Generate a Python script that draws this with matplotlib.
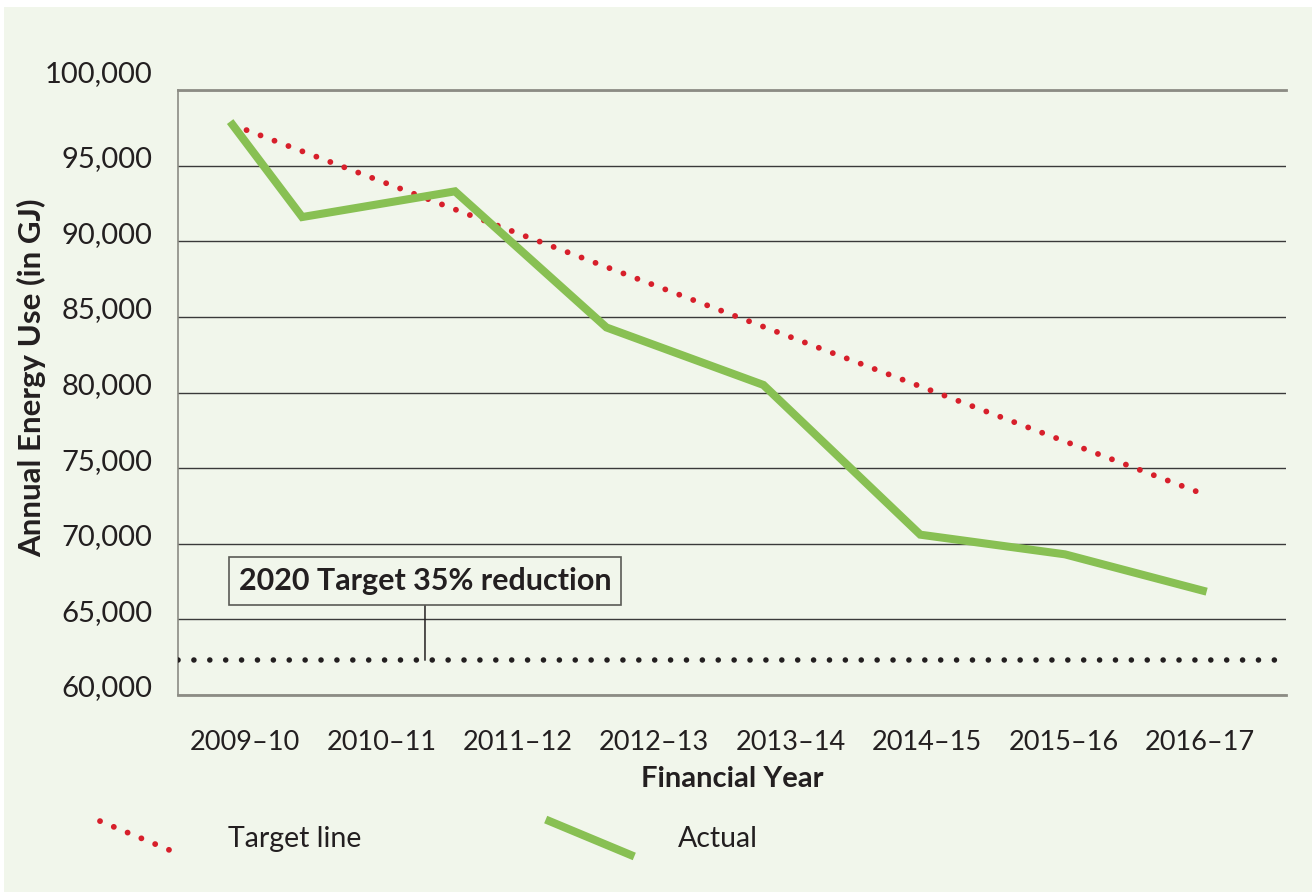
"""
Annual energy use vs target line, financial years 2009-10 to 2016-17.
"""
import matplotlib
matplotlib.use("Agg")
import matplotlib.pyplot as plt
from matplotlib.lines import Line2D
from matplotlib.patches import Rectangle
from matplotlib.legend_handler import HandlerLine2D
from matplotlib.transforms import ScaledTranslation

# data
years = ["2009–10", "2010–11", "2011–12", "2012–13", "2013–14", "2014–15", "2015–16", "2016–17"]
actual_pos = [-0.09, 0.42, 1.54, 2.65, 3.80, 4.95, 6.01, 7.02]
actual_gj = [97700, 91600, 93300, 84300, 80500, 70600, 69300, 66900]
target_pos = [-0.09, 7.02]
target_gj = [97700, 73300]
target_2020 = 62300
target_2020_label = "2020 Target 35% reduction"
yticks = [60000, 65000, 70000, 75000, 80000, 85000, 90000, 95000, 100000]

BG = "#f1f6eb"
RED = "#d71f2b"
GREEN = "#88c053"
DARK = "#231f20"
plt.rcParams["font.family"] = ["Lato", "DejaVu Sans"]


class HandlerDiagonal(HandlerLine2D):
    """Legend key drawn as a falling diagonal line."""

    def create_artists(self, legend, orig_handle, xdescent, ydescent,
                       width, height, fontsize, trans):
        line = Line2D([-xdescent, -xdescent + width],
                      [height - ydescent, -ydescent])
        self.update_prop(line, orig_handle, legend)
        line.set_transform(trans)
        return [line]


fig = plt.figure(figsize=(13.12, 8.92), dpi=100, facecolor="white")
fig.add_artist(Rectangle((4 / 1312, 0), 1, 1 - 7 / 892, transform=fig.transFigure,
                         facecolor=BG, edgecolor="none", zorder=-10))
ax = fig.add_axes([178 / 1312, 1 - 695 / 892, (1286 - 178) / 1312, (695 - 90) / 892])
ax.set_facecolor(BG)

ax.plot(target_pos, target_gj, color=RED, lw=4.2, linestyle=(0, (0.01, 2.55)),
        dash_capstyle="round", zorder=3, label="Target line")
ax.plot(actual_pos, actual_gj, color=GREEN, lw=5.8, solid_joinstyle="miter",
        zorder=4, label="Actual")
ax.axhline(target_2020, color=DARK, lw=4.0, linestyle=(0, (0.01, 2.85)),
           dash_capstyle="round", zorder=3)

ann_x = 1.32
ax.annotate(target_2020_label, xy=(ann_x, target_2020), xytext=(ann_x, 67550),
            ha="center", va="center", fontsize=22, fontweight="bold", color=DARK,
            bbox=dict(boxstyle="square,pad=0.32", facecolor=BG, edgecolor="#5a5a55", lw=1.2),
            arrowprops=dict(arrowstyle="-", color=DARK, lw=1.1, shrinkA=0, shrinkB=0),
            zorder=5)

ax.set_xlim(-0.49, 7.63)
ax.set_ylim(60000, 100000)
ax.set_yticks(yticks)
ax.set_yticklabels([f"{v:,}" for v in yticks])
ax.set_xticks(range(len(years)))
ax.set_xticklabels(years)
ax.tick_params(axis="both", length=0, labelcolor=DARK)
ax.tick_params(axis="y", pad=18.5, labelsize=21)
ax.tick_params(axis="x", pad=25, labelsize=19.5)
ax.grid(axis="y", color="#3a3a3a", lw=1.0)
ax.set_axisbelow(True)

ax.spines["right"].set_visible(False)
for side in ("top", "bottom"):
    ax.spines[side].set_color("#8c8c84")
    ax.spines[side].set_linewidth(2.0)
ax.spines["left"].set_color("#8c8c84")
ax.spines["left"].set_linewidth(1.2)

# the reference draws the y labels a little above their gridlines
for lab in ax.get_yticklabels():
    shift = 0.18 if lab.get_text() == "100,000" else 0.09
    lab.set_transform(lab.get_transform() + ScaledTranslation(0, shift, fig.dpi_scale_trans))

ax.set_xlabel("Financial Year", fontsize=21, fontweight="bold", color=DARK, labelpad=8)
fig.text(32 / 1312, 1 - 378 / 892, "Annual Energy Use (in GJ)", rotation=90,
         ha="center", va="center", fontsize=22.5, fontweight="bold", color=DARK)

handles, labels = ax.get_legend_handles_labels()
fig.legend(handles, labels, loc="center left", ncol=2, frameon=False,
           bbox_to_anchor=(100 / 1312, 1 - 838 / 892), bbox_transform=fig.transFigure,
           borderpad=0, borderaxespad=0, fontsize=20.5, labelcolor=DARK,
           handlelength=2.85, handleheight=1.45, handletextpad=1.65, columnspacing=6.6,
           handler_map={Line2D: HandlerDiagonal()})

fig.savefig("out.png", dpi=100, facecolor=fig.get_facecolor())
